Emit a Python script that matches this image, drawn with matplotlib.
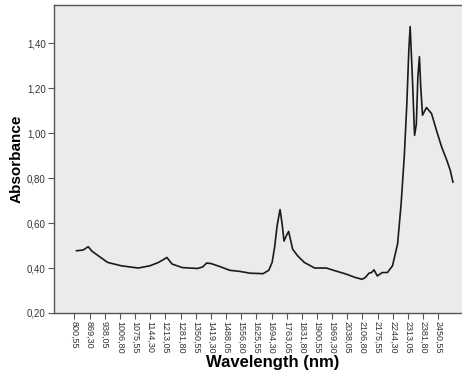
import numpy as np
import matplotlib
matplotlib.use("Agg")
import matplotlib.pyplot as plt

# NIR absorbance spectrum
wavelength = [810, 840, 863, 880, 951, 1013, 1090, 1143, 1182, 1205, 1220, 1243,
              1290, 1359, 1382, 1400, 1420, 1459, 1505, 1551, 1597, 1656, 1682,
              1697, 1708, 1720, 1733, 1742, 1751, 1762, 1772, 1790, 1813, 1843,
              1890, 1943, 1982, 2036, 2074, 2105, 2120, 2136, 2148, 2159, 2174,
              2197, 2220, 2243, 2266, 2282, 2297, 2308, 2317, 2323, 2333, 2343,
              2351, 2358, 2365, 2371, 2379, 2397, 2420, 2443, 2466, 2489, 2505,
              2517]
absorbance = [0.477, 0.480, 0.495, 0.475, 0.425, 0.410, 0.400, 0.410, 0.425, 0.438,
              0.447, 0.418, 0.402, 0.398, 0.405, 0.422, 0.420, 0.407, 0.390, 0.385,
              0.377, 0.375, 0.390, 0.425, 0.490, 0.590, 0.660, 0.600, 0.520, 0.545,
              0.563, 0.484, 0.454, 0.425, 0.400, 0.400, 0.388, 0.372, 0.358, 0.350,
              0.358, 0.377, 0.380, 0.392, 0.365, 0.380, 0.380, 0.410, 0.507, 0.685,
              0.908, 1.132, 1.370, 1.474, 1.250, 0.990, 1.040, 1.250, 1.340, 1.206,
              1.080, 1.114, 1.087, 1.010, 0.938, 0.880, 0.834, 0.782]

x_ticks = [800.55 + 68.75 * k for k in range(25)]
y_ticks = [0.20, 0.40, 0.60, 0.80, 1.00, 1.20, 1.40]

plt.rcParams["font.family"] = ["Liberation Sans", "DejaVu Sans"]

fig = plt.figure(figsize=(4.62, 3.76), dpi=100)
ax = fig.add_axes([54 / 462, 1 - 313 / 376, 1.02 - 54 / 462, (313 - 5) / 376])
ax.set_facecolor("#ebebeb")

ax.plot(wavelength, absorbance, color="#1a1a1a", linewidth=1.2)

ax.set_xlim(708, 2600)
ax.set_ylim(0.2, 1.57)

ax.set_xticks(x_ticks)
ax.set_xticklabels([f"{v:.2f}".replace(".", ",") for v in x_ticks],
                   rotation=270, fontsize=6.5, color="#333333")
ax.set_yticks(y_ticks)
ax.set_yticklabels([f"{v:.2f}".replace(".", ",") for v in y_ticks],
                   fontsize=7, color="#333333")
ax.tick_params(direction="out", length=4, width=0.8, color="#555555", pad=2)

for side in ["top", "left", "bottom"]:
    ax.spines[side].set_color("#555555")
    ax.spines[side].set_linewidth(1.0)
ax.spines["right"].set_visible(False)

ax.set_ylabel("Absorbance", fontsize=11, fontweight="bold")
ax.set_xlabel("Wavelength (nm)", fontsize=12, fontweight="bold")
ax.xaxis.set_label_coords((273 - 54) / (1.02 * 462 - 54), -(363 - 313) / 308)
ax.yaxis.set_label_coords(-(54 - 17) / (1.02 * 462 - 54), 0.5)
ax.xaxis.label.set_va("center")
ax.yaxis.label.set_va("center")

fig.savefig("out.png", dpi=100)
